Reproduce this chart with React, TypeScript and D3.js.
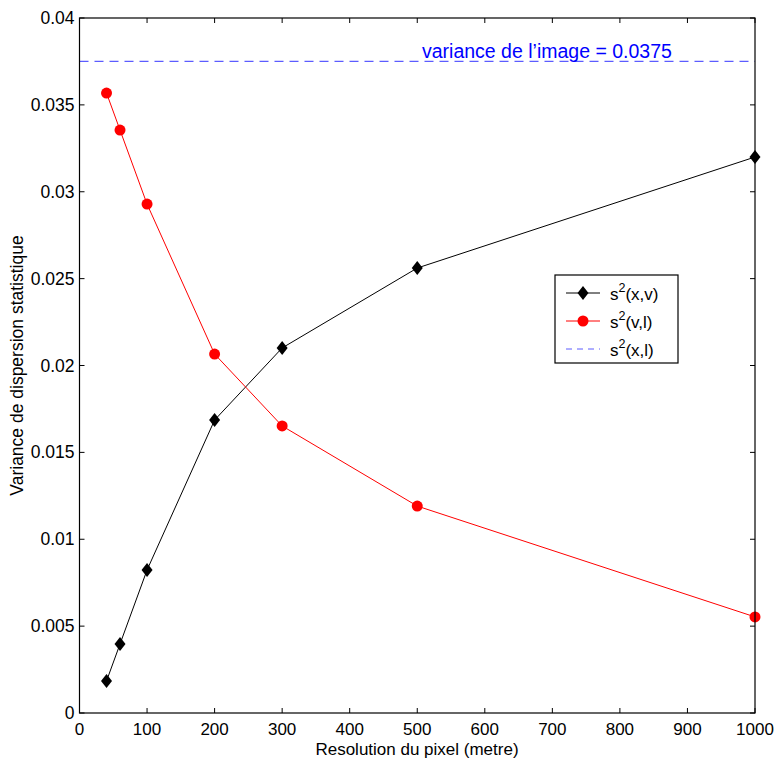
import React from "react";
import * as d3 from "d3";

const resolutions = [40, 60, 100, 200, 300, 500, 1000];
const sxv = [0.00184, 0.00397, 0.00823, 0.01686, 0.02101, 0.02561, 0.0320];
const svl = [0.03568, 0.03355, 0.02929, 0.02066, 0.01652, 0.01191, 0.00553];
const imageVariance = 0.0375;
const xTicks = [0, 100, 200, 300, 400, 500, 600, 700, 800, 900, 1000];
const yTicks = [0, 0.005, 0.01, 0.015, 0.02, 0.025, 0.03, 0.035, 0.04];
const yTickLabels = ["0", "0.005", "0.01", "0.015", "0.02", "0.025", "0.03", "0.035", "0.04"];

const W = 776, H = 760;
const L = 79.5, R = 755, T = 18, B = 713;
const FONT = "'Liberation Sans', Arial, Helvetica, sans-serif";

export default function App() {
  const x = d3.scaleLinear().domain([0, 1000]).range([L, R]);
  const y = d3.scaleLinear().domain([0, 0.04]).range([B, T]);
  const line = d3.line<number>().x((_, i) => x(resolutions[i])).y((d) => y(d));
  const tl = 5;
  const diamond = (cx: number, cy: number, w = 5.5, h = 7) =>
    `M${cx},${cy - h}L${cx + w},${cy}L${cx},${cy + h}L${cx - w},${cy}Z`;

  return (
    <svg width={W} height={H} style={{ position: "absolute", left: 0, top: 0, background: "#fff" }} fontFamily={FONT}>
      <rect x={0} y={0} width={W} height={H} fill="#fff" />
      {/* ticks */}
      {xTicks.map((t) => (
        <g key={"xt" + t}>
          <line x1={x(t)} x2={x(t)} y1={B} y2={B - tl} stroke="#000" />
          <line x1={x(t)} x2={x(t)} y1={T} y2={T + tl} stroke="#000" />
          <text x={x(t)} y={735} textAnchor="middle" fontSize={17}>{t}</text>
        </g>
      ))}
      {yTicks.map((t, i) => (
        <g key={"yt" + t}>
          <line x1={L} x2={L + tl} y1={y(t)} y2={y(t)} stroke="#000" />
          <line x1={R} x2={R - tl} y1={y(t)} y2={y(t)} stroke="#000" />
          <text x={L - 5} y={y(t) + 6} textAnchor="end" fontSize={17.5}>{yTickLabels[i]}</text>
        </g>
      ))}
      {/* dashed variance line */}
      <line x1={L} x2={R} y1={y(imageVariance)} y2={y(imageVariance)} stroke="#5c5cff" strokeWidth={1.2} strokeDasharray="9,6" />
      <text x={422} y={58} fontSize={19.5} fill="#0000ff">variance de l’image = 0.0375</text>
      {/* series */}
      <path d={line(sxv) || ""} fill="none" stroke="#000" strokeWidth={1} />
      {sxv.map((v, i) => (
        <path key={"d" + i} d={diamond(x(resolutions[i]), y(v))} fill="#000" />
      ))}
      <path d={line(svl) || ""} fill="none" stroke="#ff0000" strokeWidth={1} />
      {svl.map((v, i) => (
        <circle key={"c" + i} cx={x(resolutions[i])} cy={y(v)} r={5.5} fill="#ff0000" />
      ))}
      {/* frame */}
      <rect x={L} y={T} width={R - L} height={B - T} fill="none" stroke="#000" strokeWidth={1.2} />
      {/* legend */}
      <g>
        <rect x={555} y={275} width={123} height={88} fill="#fff" stroke="#000" strokeWidth={1.2} />
        <line x1={566} x2={600} y1={293} y2={293} stroke="#000" />
        <path d={diamond(583, 293)} fill="#000" />
        <text x={610} y={300} fontSize={17}>s<tspan dy={-8} fontSize={12.5}>2</tspan><tspan dy={8}>(x,v)</tspan></text>
        <line x1={566} x2={600} y1={321} y2={321} stroke="#ff0000" />
        <circle cx={583} cy={321} r={5.5} fill="#ff0000" />
        <text x={610} y={328} fontSize={17}>s<tspan dy={-8} fontSize={12.5}>2</tspan><tspan dy={8}>(v,l)</tspan></text>
        <line x1={566} x2={600} y1={349} y2={349} stroke="#5c5cff" strokeDasharray="6,5" />
        <text x={610} y={356} fontSize={17}>s<tspan dy={-8} fontSize={12.5}>2</tspan><tspan dy={8}>(x,l)</tspan></text>
      </g>
      {/* axis labels */}
      <text x={417} y={755} textAnchor="middle" fontSize={17}>Resolution du pixel (metre)</text>
      <text transform={`translate(23,${(T + B) / 2}) rotate(-90)`} textAnchor="middle" fontSize={17.5}>Variance de dispersion statistique</text>
    </svg>
  );
}
